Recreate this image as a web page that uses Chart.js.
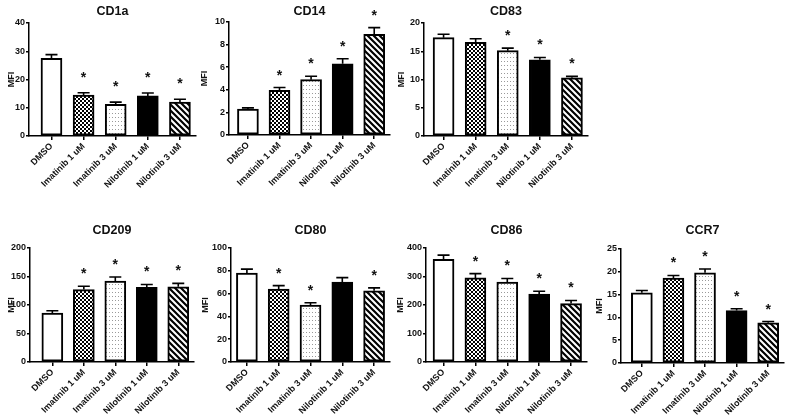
<!DOCTYPE html>
<html>
<head>
<meta charset="utf-8">
<script src="https://cdn.jsdelivr.net/npm/chart.js@4.4.1/dist/chart.umd.min.js"></script>
<style>
  html, body { margin: 0; padding: 0; background: #fff; }
  body { width: 791px; height: 415px; position: relative; overflow: hidden; }
  canvas { position: absolute; }
</style>
</head>
<body>
<script>
const groups = ["DMSO", "Imatinib 1 uM", "Imatinib 3 uM", "Nilotinib 1 uM", "Nilotinib 3 uM"];

// mean MFI, SEM (upper bar only), significance star per group
const cd1aMean = [27.5, 14.5, 11.2, 14.2, 12.0];
const cd1aSem  = [1.3, 0.8, 0.8, 1.0, 1.0];
const cd1aSig  = [0, 1, 1, 1, 1];

const cd14Mean = [2.3, 3.95, 4.9, 6.3, 8.9];
const cd14Sem  = [0.1, 0.25, 0.3, 0.45, 0.6];
const cd14Sig  = [0, 1, 1, 1, 1];

const cd83Mean = [17.4, 16.6, 15.1, 13.5, 10.3];
const cd83Sem  = [0.6, 0.6, 0.45, 0.4, 0.25];
const cd83Sig  = [0, 0, 1, 1, 1];

const cd209Mean = [86, 127, 142, 131, 132];
const cd209Sem  = [4, 6, 7, 5, 6];
const cd209Sig  = [0, 1, 1, 1, 1];

const cd80Mean = [78, 64, 50, 70, 62.5];
const cd80Sem  = [3.5, 3, 2, 4, 2.5];
const cd80Sig  = [0, 1, 1, 0, 1];

const cd86Mean = [360, 295, 280, 238, 205];
const cd86Sem  = [15, 15, 13, 10, 11];
const cd86Sig  = [0, 1, 1, 1, 1];

const ccr7Mean = [15.4, 18.6, 19.8, 11.5, 8.8];
const ccr7Sem  = [0.5, 0.6, 0.8, 0.4, 0.3];
const ccr7Sig  = [0, 1, 1, 1, 1];

const yMaxes  = [40, 10, 20, 200, 100, 400, 25];
const ySteps  = [10, 2, 5, 50, 20, 100, 5];

// fills: white, checker, fine dots, black, diagonal stripes
function tile(w, h, draw) {
  const c = document.createElement("canvas");
  c.width = w; c.height = h;
  const g = c.getContext("2d");
  g.fillStyle = "#fff";
  g.fillRect(0, 0, w, h);
  draw(g);
  return c.getContext("2d").createPattern(c, "repeat");
}
const checker = tile(4, 4, g => { g.fillStyle = "#000"; g.fillRect(0, 0, 2, 2); g.fillRect(2, 2, 2, 2); });
const dots = tile(3, 4, g => { g.fillStyle = "#999"; g.fillRect(1, 1, 1, 1); });
const stripes = tile(6, 6, g => {
  g.strokeStyle = "#000"; g.lineWidth = 2.2;
  g.beginPath();
  g.moveTo(-1, -1); g.lineTo(7, 7);
  g.moveTo(-1, 5); g.lineTo(1, 7);
  g.moveTo(5, -1); g.lineTo(7, 1);
  g.stroke();
});
const fills = ["#fff", checker, dots, "#000", stripes];

const FONT = "'Liberation Sans', Arial, sans-serif";
Chart.defaults.font.family = FONT;
Chart.defaults.color = "#111";

const panels = [
  { name: "CD1a",  mean: cd1aMean,  sem: cd1aSem,  sig: cd1aSig,  left: 0,   top: 0,   axisX: 29,  right: 196, plotTop: 23,  plotBottom: 136, xMin: -0.70, titleY: 12,  mfiX: 12,  starGap: 19 },
  { name: "CD14",  mean: cd14Mean,  sem: cd14Sem,  sig: cd14Sig,  left: 200, top: 0,   axisX: 229, right: 390, plotTop: 22,  plotBottom: 135, xMin: -0.60, titleY: 12,  mfiX: 205, starGap: 16 },
  { name: "CD83",  mean: cd83Mean,  sem: cd83Sem,  sig: cd83Sig,  left: 395, top: 0,   axisX: 424, right: 588, plotTop: 23,  plotBottom: 136, xMin: -0.61, titleY: 12,  mfiX: 402, starGap: 16 },
  { name: "CD209", mean: cd209Mean, sem: cd209Sem, sig: cd209Sig, left: 0,   top: 215, axisX: 30,  right: 194, plotTop: 248, plotBottom: 362, xMin: -0.71, titleY: 231, mfiX: 12,  starGap: 16 },
  { name: "CD80",  mean: cd80Mean,  sem: cd80Sem,  sig: cd80Sig,  left: 200, top: 215, axisX: 231, right: 390, plotTop: 248, plotBottom: 362, xMin: -0.50, titleY: 231, mfiX: 206, starGap: 16 },
  { name: "CD86",  mean: cd86Mean,  sem: cd86Sem,  sig: cd86Sig,  left: 395, top: 215, axisX: 426, right: 587, plotTop: 248, plotBottom: 362, xMin: -0.55, titleY: 231, mfiX: 401, starGap: 16 },
  { name: "CCR7",  mean: ccr7Mean,  sem: ccr7Sem,  sig: ccr7Sig,  left: 590, top: 215, axisX: 621, right: 784, plotTop: 249, plotBottom: 363, xMin: -0.66, titleY: 231, mfiX: 600, starGap: 16 },
];

const H = 200;

// error bars, stars and panel title
function extras(p) {
  return {
    id: "extras",
    afterDatasetsDraw(chart) {
      const x = chart.scales.x, y = chart.scales.y, ctx = chart.ctx;
      ctx.save();
      ctx.strokeStyle = "#000";
      ctx.lineWidth = 1.6;
      ctx.fillStyle = "#111";
      ctx.font = "bold 14px " + FONT;
      ctx.textAlign = "center";
      ctx.textBaseline = "alphabetic";
      p.mean.forEach((m, i) => {
        const cx = x.getPixelForValue(i);
        const base = y.getPixelForValue(m);
        const top = y.getPixelForValue(m + p.sem[i]);
        ctx.beginPath();
        ctx.moveTo(cx, base); ctx.lineTo(cx, top);
        ctx.moveTo(cx - 6, top); ctx.lineTo(cx + 6, top);
        ctx.stroke();
        if (p.sig[i]) ctx.fillText("*", cx, top - p.starGap + 8);
      });
      ctx.font = "bold 12.5px " + FONT;
      ctx.textBaseline = "middle";
      ctx.fillText(p.name, (chart.chartArea.left + chart.chartArea.right) / 2, p.titleY - p.top);
      ctx.restore();
    }
  };
}

const tickFont = { size: 9, weight: "bold" };

panels.forEach((p, k) => {
  const cv = document.createElement("canvas");
  const w = p.right - p.left + 4;
  cv.width = w; cv.height = H;
  cv.style.left = p.left + "px";
  cv.style.top = p.top + "px";
  document.body.appendChild(cv);

  new Chart(cv, {
    type: "bar",
    data: {
      datasets: [{
        data: p.mean.map((v, i) => ({ x: i, y: v })),
        backgroundColor: fills,
        borderColor: "#000",
        borderWidth: 2,
        borderSkipped: false,
        barThickness: 21,
      }]
    },
    options: {
      responsive: false,
      devicePixelRatio: 1,
      animation: false,
      layout: { padding: { top: p.plotTop - p.top, right: 4, left: 0, bottom: 0 } },
      plugins: { legend: { display: false }, tooltip: { enabled: false } },
      scales: {
        x: {
          type: "linear",
          offset: false,
          min: p.xMin, max: 4.5,
          afterFit: s => { s.height = p.top + H - p.plotBottom; s.paddingLeft = 0; s.paddingRight = 0; },
          afterBuildTicks: s => { s.ticks = groups.map((g, i) => ({ value: i })); },
          ticks: { autoSkip: false, minRotation: 45, maxRotation: 45, padding: 1, font: tickFont, color: "#111",
                   callback: v => groups[v] },
          grid: { offset: false, drawOnChartArea: false, tickLength: 4, color: "#000", lineWidth: 1.5 },
          border: { color: "#000", width: 1.5 },
        },
        y: {
          min: 0, max: yMaxes[k],
          afterFit: s => { s.width = p.axisX - p.left; s.paddingTop = 0; s.paddingBottom = 0; },
          ticks: { stepSize: ySteps[k], padding: 1, font: tickFont, color: "#111" },
          grid: { drawOnChartArea: false, tickLength: 3, color: "#000", lineWidth: 1.5 },
          border: { color: "#000", width: 1.5 },
          title: { display: true, text: "MFI", color: "#111", font: tickFont,
                   padding: { top: p.mfiX - p.left - 5.4, bottom: 0 } },
        }
      }
    },
    plugins: [extras(p)]
  });
});
</script>
</body>
</html>
